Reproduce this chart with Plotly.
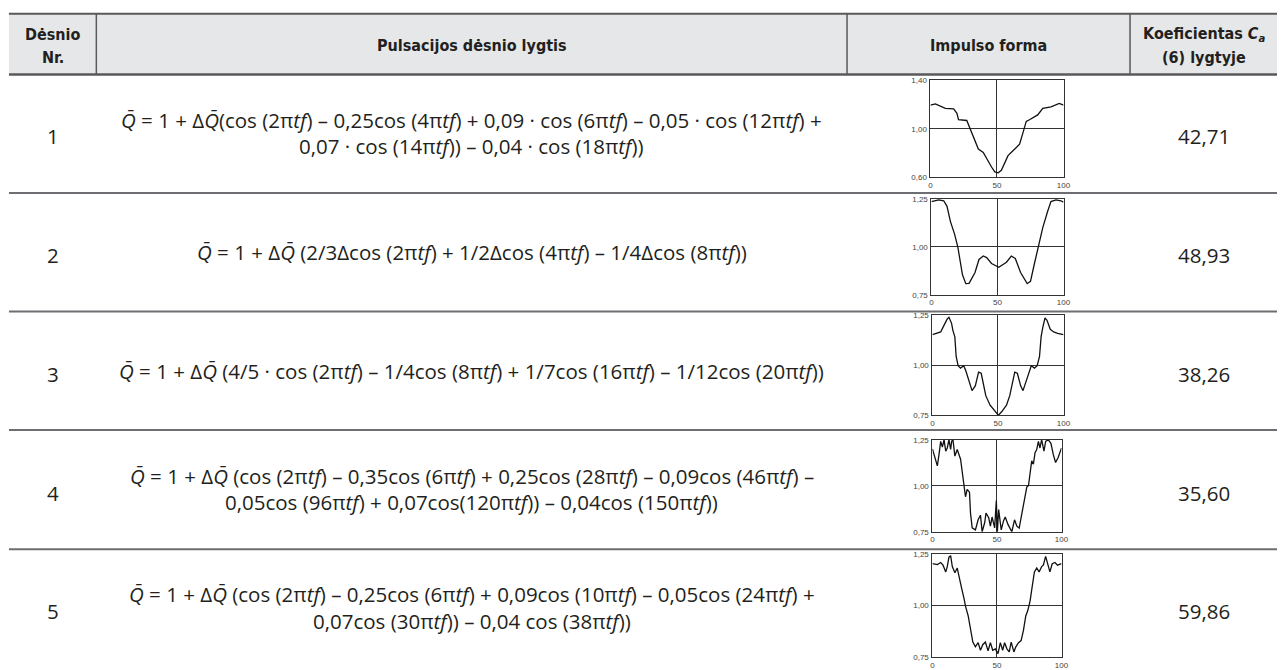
import plotly.graph_objects as go

W, H = 1284, 670

# ---- table content ----
header_law = ["Dėsnio", "Nr."]
header_equation = "Pulsacijos dėsnio lygtis"
header_shape = "Impulso forma"
header_coef = ["Koeficientas <i>C</i><sub><i>a</i></sub>", "(6) lygtyje"]

law_numbers = ["1", "2", "3", "4", "5"]
ca_values = ["42,71", "48,93", "38,26", "35,60", "59,86"]

Q = "<i>Q̄</i>"
T = "π<i>tf</i>"
equations = [
    [f"{Q} = 1 + Δ{Q}(cos (2{T}) – 0,25cos (4{T}) + 0,09 · cos (6{T}) – 0,05 · cos (12{T}) +",
     f"0,07 · cos (14{T})) – 0,04 · cos (18{T}))"],
    [f"{Q} = 1 + Δ{Q} (2/3Δcos (2{T}) + 1/2Δcos (4{T}) – 1/4Δcos (8{T}))"],
    [f"{Q} = 1 + Δ{Q} (4/5 · cos (2{T}) – 1/4cos (8{T}) + 1/7cos (16{T}) – 1/12cos (20{T}))"],
    [f"{Q} = 1 + Δ{Q} (cos (2{T}) – 0,35cos (6{T}) + 0,25cos (28{T}) – 0,09cos (46{T}) –",
     f"0,05cos (96{T}) + 0,07cos(120{T})) – 0,04cos (150{T}))"],
    [f"{Q} = 1 + Δ{Q} (cos (2{T}) – 0,25cos (6{T}) + 0,09cos (10{T}) – 0,05cos (24{T}) +",
     f"0,07cos (30{T})) – 0,04 cos (38{T}))"],
]

# ---- pulse shapes (x in % of period, y = relative flow) ----
pulse1_x = [0, 3.7, 11.2, 17.4, 19.9, 21.1, 27.3, 29.0, 30.5, 33.5, 36.0, 39.7, 42.2, 45.9,
            48.4, 50.9, 53.3, 55.8, 58.3, 62.0, 67.0, 69.5, 72.0, 74.4, 80.6, 84.4, 90.6, 96.8, 100]
pulse1_y = [1.196, 1.206, 1.169, 1.164, 1.128, 1.075, 1.069, 1.021, 0.981, 0.900, 0.833, 0.806,
            0.752, 0.685, 0.645, 0.637, 0.658, 0.725, 0.779, 0.819, 0.873, 0.967, 1.061, 1.075,
            1.115, 1.169, 1.182, 1.209, 1.196]

pulse2_x = [0, 5.5, 9.3, 11.8, 14.3, 17.5, 20, 21.8, 23.5, 26, 28.5, 33, 36, 39.3, 41.8, 45.5,
            51, 56.8, 60.5, 63.5, 67.5, 72.5, 75, 78, 81, 84.3, 88, 90.5, 94.3, 98, 100]
pulse2_y = [1.236, 1.245, 1.240, 1.211, 1.134, 1.066, 0.998, 0.913, 0.854, 0.808, 0.810, 0.866,
            0.934, 0.952, 0.944, 0.913, 0.893, 0.920, 0.952, 0.939, 0.866, 0.808, 0.820, 0.913,
            1.006, 1.100, 1.185, 1.236, 1.245, 1.240, 1.233]

pulse3_x = [0, 3, 6.3, 8.8, 11.3, 12.6, 14.6, 15.6, 17.1, 18.1, 19.6, 21.4, 23.9, 25.6, 27.6,
            30.2, 32.7, 35.2, 37.2, 38.9, 40.7, 44, 47.7, 50.3, 52.8, 56.5, 59, 60.8, 62.8, 64.8,
            67.3, 69.1, 71.6, 74.1, 75.4, 77.9, 79.9, 81.7, 82.9, 84.2, 85.9, 87.4, 89.9, 92.5,
            95.5, 100]
pulse3_y = [1.154, 1.160, 1.167, 1.200, 1.232, 1.240, 1.210, 1.175, 1.142, 1.044, 0.998, 0.986,
            0.998, 0.970, 0.922, 0.873, 0.897, 0.966, 0.960, 0.897, 0.848, 0.800, 0.767, 0.750,
            0.767, 0.800, 0.848, 0.897, 0.966, 0.960, 0.897, 0.873, 0.922, 0.970, 0.998, 0.986,
            0.998, 1.044, 1.142, 1.190, 1.237, 1.225, 1.180, 1.167, 1.160, 1.154]

pulse4_x = [0, 2.1, 3.8, 5.1, 6.4, 7.7, 9, 10.3, 11.5, 12.8, 14.1, 14.9, 15.9, 17.4, 19.2, 21.8,
            23.1, 24.4, 25.6, 26.9, 28.7, 29.5, 30.8, 33.3, 35.4, 37.2, 38.5, 40.5, 41.5, 43.6,
            44.9, 46.2, 48.2, 49.5, 50.3, 51.3, 53.3, 55.1, 56.4, 58.5, 60.3, 61.5, 63.6, 65.4,
            67.2, 68.7, 70.5, 71.8, 73.1, 74.4, 75.6, 76.9, 78.2, 79.5, 80.8, 82.1, 83.3, 84.6,
            86.4, 87.7, 89.7, 91.8, 93.6, 95.4, 97.4, 99.2, 100]
pulse4_y = [1.200, 1.153, 1.108, 1.170, 1.241, 1.210, 1.250, 1.188, 1.205, 1.250, 1.197, 1.241,
            1.250, 1.161, 1.197, 1.144, 1.064, 1.011, 0.940, 0.980, 0.965, 0.851, 0.771, 0.760,
            0.815, 0.840, 0.750, 0.800, 0.851, 0.826, 0.780, 0.830, 0.771, 0.920, 0.750, 0.870,
            0.760, 0.810, 0.830, 0.790, 0.770, 0.750, 0.815, 0.780, 0.770, 0.830, 0.904, 0.950,
            0.993, 1.000, 1.064, 1.135, 1.117, 1.180, 1.197, 1.241, 1.205, 1.250, 1.188, 1.241,
            1.250, 1.230, 1.170, 1.126, 1.153, 1.197, 1.205]

pulse5_x = [0, 3.8, 6.4, 8.2, 10.3, 11.5, 12.8, 14.1, 15.4, 17.4, 19.2, 20.5, 22.6, 24.4, 25.6,
            27.7, 29.5, 31.3, 33.3, 35.4, 37.2, 39, 41, 43.1, 44.9, 46.7, 48.7, 50.8, 52.6, 54.4,
            55.9, 57.7, 59.5, 61, 63.1, 64.6, 66.7, 68.7, 70.5, 72.3, 73.8, 75.6, 76.9, 79, 80.8,
            82.6, 84.6, 85.9, 87.7, 89.2, 91, 92.8, 94.9, 96.9, 100]
pulse5_y = [1.204, 1.200, 1.210, 1.197, 1.164, 1.190, 1.236, 1.243, 1.190, 1.160, 1.183, 1.140,
            1.085, 1.037, 0.998, 0.950, 0.887, 0.823, 0.800, 0.820, 0.783, 0.810, 0.823, 0.780,
            0.820, 0.783, 0.790, 0.767, 0.820, 0.783, 0.820, 0.790, 0.775, 0.823, 0.775, 0.800,
            0.820, 0.830, 0.880, 0.950, 0.975, 1.021, 1.077, 1.164, 1.183, 1.164, 1.190, 1.197,
            1.240, 1.204, 1.164, 1.204, 1.210, 1.197, 1.204]

pulse_x = [pulse1_x, pulse2_x, pulse3_x, pulse4_x, pulse5_x]
pulse_y = [pulse1_y, pulse2_y, pulse3_y, pulse4_y, pulse5_y]

x_tickvals = [0, 50, 100]
x_ticktext = ["0", "50", "100"]
y_tickvals = [[0.60, 1.00, 1.40]] + [[0.75, 1.00, 1.25]] * 4
y_ticktext = [["0,60", "1,00", "1,40"]] + [["0,75", "1,00", "1,25"]] * 4

# ---- geometry (pixels) ----
TABLE_LEFT, TABLE_RIGHT = 7, W
COL_EDGES = [7, 95, 851, 1136, W]
HEAD_TOP, HEAD_BOTTOM = 10, 72
ROW_LINES = [193, 314, 435, 557]
ROW_CENTERS = [132, 253, 375, 496, 617]
PLOT_BOXES = [  # left, right, top, bottom
    (935, 1069, 78, 177),
    (936, 1069, 199, 297),
    (937, 1069, 318, 420),
    (937, 1067, 445, 539),
    (937, 1067, 562, 667),
]


def fx(px):
    return px / W


def fy(py):
    return 1 - py / H


TEXT = "#231f20"
BODY_FONT = dict(family="Open Sans, Noto Sans, sans-serif", size=20.5, color=TEXT)
HEAD_FONT = dict(family="Liberation Sans Narrow, DejaVu Sans Condensed, Arial Narrow, sans-serif",
                 size=16, color=TEXT, weight="bold")
TICK_FONT = dict(family="Liberation Sans, Arial, sans-serif", size=8, color="#444444")

fig = go.Figure()
shapes = []
annotations = []

# header band and rules
shapes.append(dict(type="rect", xref="paper", yref="paper", x0=fx(TABLE_LEFT), x1=fx(TABLE_RIGHT),
                   y0=fy(HEAD_BOTTOM), y1=fy(HEAD_TOP), fillcolor="#e6e7e8", line_width=0, layer="below"))
shapes.append(dict(type="line", xref="paper", yref="paper", x0=fx(TABLE_LEFT), x1=fx(TABLE_RIGHT),
                   y0=fy(HEAD_TOP), y1=fy(HEAD_TOP), line=dict(color="#58595b", width=2)))
shapes.append(dict(type="line", xref="paper", yref="paper", x0=fx(TABLE_LEFT), x1=fx(TABLE_RIGHT),
                   y0=fy(HEAD_BOTTOM), y1=fy(HEAD_BOTTOM), line=dict(color="#58595b", width=2.5)))
for cx in COL_EDGES[1:-1]:
    shapes.append(dict(type="line", xref="paper", yref="paper", x0=fx(cx), x1=fx(cx),
                       y0=fy(HEAD_BOTTOM), y1=fy(HEAD_TOP), line=dict(color="#58595b", width=1.5)))
for ry in ROW_LINES:
    shapes.append(dict(type="line", xref="paper", yref="paper", x0=fx(TABLE_LEFT), x1=fx(TABLE_RIGHT),
                       y0=fy(ry), y1=fy(ry), line=dict(color="#6d6e71", width=2)))


def text(x, y, s, font, xanchor="center"):
    annotations.append(dict(xref="paper", yref="paper", x=fx(x), y=fy(y), text=s, showarrow=False,
                            xanchor=xanchor, yanchor="middle", font=font))


col_mid = [(COL_EDGES[i] + COL_EDGES[i + 1]) / 2 for i in range(4)]

# header texts
text(col_mid[0], 31, header_law[0], HEAD_FONT)
text(col_mid[0], 55, header_law[1], HEAD_FONT)
text(col_mid[1], 42, header_equation, HEAD_FONT)
text(col_mid[2], 42, header_shape, HEAD_FONT)
text(col_mid[3], 31, header_coef[0], HEAD_FONT)
text(col_mid[3], 55, header_coef[1], HEAD_FONT)

# body rows
for i, yc in enumerate(ROW_CENTERS):
    text(col_mid[0], yc + 3, law_numbers[i], BODY_FONT)
    text(col_mid[3], yc + 3, ca_values[i], BODY_FONT)
    lines = equations[i]
    if len(lines) == 1:
        text(col_mid[1], yc, lines[0], BODY_FONT)
    else:
        text(col_mid[1], yc - 14, lines[0], BODY_FONT)
        text(col_mid[1], yc + 13, lines[1], BODY_FONT)

# pulse shape charts
for i in range(5):
    n = "" if i == 0 else str(i + 1)
    left, right, top, bottom = PLOT_BOXES[i]
    fig.add_trace(go.Scatter(x=pulse_x[i], y=pulse_y[i], mode="lines", xaxis="x" + n, yaxis="y" + n,
                             line=dict(color="#111111", width=1.3), showlegend=False,
                             hoverinfo="skip", cliponaxis=True))
    common = dict(showline=True, mirror=True, linecolor="#333333", linewidth=1, showgrid=True,
                  gridcolor="#333333", gridwidth=1, zeroline=False, ticks="", tickfont=TICK_FONT,
                  fixedrange=True)
    fig.update_layout(**{
        "xaxis" + n: dict(domain=[fx(left), fx(right)], range=[0, 100], tickvals=x_tickvals,
                          ticktext=x_ticktext, anchor="y" + n, ticklabelstandoff=0, **common),
        "yaxis" + n: dict(domain=[fy(bottom), fy(top)], range=[y_tickvals[i][0], y_tickvals[i][-1]],
                          tickvals=y_tickvals[i], ticktext=y_ticktext[i], anchor="x" + n,
                          ticklabelstandoff=1, **common),
    })

fig.update_layout(width=W, height=H, margin=dict(l=0, r=0, t=0, b=0), paper_bgcolor="white",
                  plot_bgcolor="white", shapes=shapes, annotations=annotations, showlegend=False)

fig.write_html("out.html")
